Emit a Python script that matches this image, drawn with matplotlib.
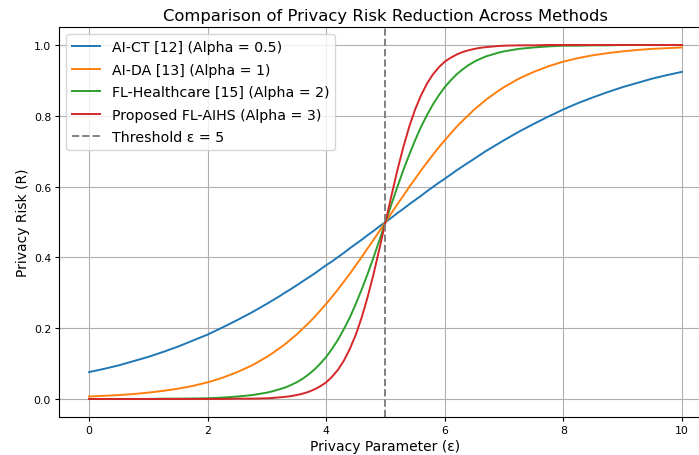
import numpy as np
import matplotlib
matplotlib.use("Agg")
import matplotlib.pyplot as plt

# =========================
# DATA
# =========================
# coarse steps on the flat ends, finer steps around the threshold
epsilon = np.r_[np.arange(0, 2.8, 0.25), np.linspace(3.0, 7.0, 41), np.arange(7.25, 10.01, 0.25)]

risk_ai_ct = [0.076, 0.085, 0.095, 0.107, 0.119, 0.133, 0.148, 0.165, 0.182, 0.202, 0.223, 0.245,
              0.269, 0.279, 0.289, 0.300, 0.310, 0.321, 0.332, 0.343, 0.354, 0.366,
              0.378, 0.389, 0.401, 0.413, 0.426, 0.438, 0.450, 0.463, 0.475, 0.488,
              0.500, 0.512, 0.525, 0.537, 0.550, 0.562, 0.574, 0.587, 0.599, 0.611,
              0.622, 0.634, 0.646, 0.657, 0.668, 0.679, 0.690, 0.701, 0.711, 0.721, 0.731,
              0.755, 0.777, 0.798, 0.818, 0.836, 0.852, 0.867, 0.881, 0.893, 0.905, 0.915, 0.924]

risk_ai_da = [0.007, 0.009, 0.011, 0.014, 0.018, 0.023, 0.029, 0.037, 0.047, 0.060, 0.076, 0.095,
              0.119, 0.130, 0.142, 0.154, 0.168, 0.182, 0.198, 0.214, 0.231, 0.250,
              0.269, 0.289, 0.310, 0.332, 0.354, 0.378, 0.401, 0.426, 0.450, 0.475,
              0.500, 0.525, 0.550, 0.574, 0.599, 0.622, 0.646, 0.668, 0.690, 0.711,
              0.731, 0.750, 0.769, 0.786, 0.802, 0.818, 0.832, 0.846, 0.858, 0.870, 0.881,
              0.905, 0.924, 0.940, 0.953, 0.963, 0.971, 0.977, 0.982, 0.986, 0.989, 0.991, 0.993]

risk_fl_health = [0.000, 0.000, 0.000, 0.000, 0.000, 0.001, 0.001, 0.0015, 0.002, 0.004, 0.007, 0.011,
                  0.018, 0.022, 0.027, 0.032, 0.039, 0.047, 0.057, 0.069, 0.083, 0.100,
                  0.119, 0.142, 0.168, 0.198, 0.231, 0.269, 0.310, 0.354, 0.401, 0.450,
                  0.500, 0.550, 0.599, 0.646, 0.690, 0.731, 0.769, 0.802, 0.832, 0.858,
                  0.881, 0.900, 0.917, 0.931, 0.943, 0.953, 0.961, 0.968, 0.973, 0.978, 0.982,
                  0.989, 0.993, 0.996, 0.998, 0.998, 0.999, 0.999, 1.000, 1.000, 1.000, 1.000, 1.000]

risk_proposed = [0.000, 0.000, 0.000, 0.000, 0.000, 0.000, 0.000, 0.000, 0.000, 0.000, 0.001, 0.001,
                 0.002, 0.003, 0.0045, 0.006, 0.008, 0.011, 0.015, 0.020, 0.027, 0.036,
                 0.047, 0.063, 0.083, 0.109, 0.142, 0.182, 0.231, 0.289, 0.354, 0.426,
                 0.500, 0.574, 0.646, 0.711, 0.769, 0.818, 0.858, 0.891, 0.917, 0.937,
                 0.953, 0.964, 0.973, 0.980, 0.985, 0.989, 0.992, 0.994, 0.9955, 0.997, 0.998,
                 0.999, 0.999, 1.000, 1.000, 1.000, 1.000, 1.000, 1.000, 1.000, 1.000, 1.000, 1.000]

labels = ["AI-CT [12] (Alpha = 0.5)", "AI-DA [13] (Alpha = 1)",
          "FL-Healthcare [15] (Alpha = 2)", "Proposed FL-AIHS (Alpha = 3)"]
threshold = 5

# =========================
# PLOT
# =========================
fig = plt.figure(figsize=(6.99, 4.56), dpi=100)
ax = fig.add_axes([0.085, 0.084, 0.933, 0.854])

for series, lab in zip([risk_ai_ct, risk_ai_da, risk_fl_health, risk_proposed], labels):
    ax.plot(epsilon, series, label=lab, linewidth=1.4)

ax.axvline(threshold, color="gray", linestyle="--", linewidth=1.4,
           label=f"Threshold ε = {threshold}")

ax.set_xlim(-0.5, 10.5)
ax.set_ylim(-0.05, 1.05)
ax.set_xticks([0, 2, 4, 6, 8, 10])
ax.set_yticks([0.0, 0.2, 0.4, 0.6, 0.8, 1.0])
ax.tick_params(labelsize=7.8, length=3, pad=3)
ax.set_xlabel("Privacy Parameter (ε)", fontsize=10, labelpad=2.5)
ax.set_ylabel("Privacy Risk (R)", fontsize=10, labelpad=3)
ax.set_title("Comparison of Privacy Risk Reduction Across Methods", fontsize=11.8, pad=5)
ax.grid(True)
ax.legend(loc="upper left", fontsize=10.2, labelspacing=0.6)

fig.savefig("out.png", dpi=100)
